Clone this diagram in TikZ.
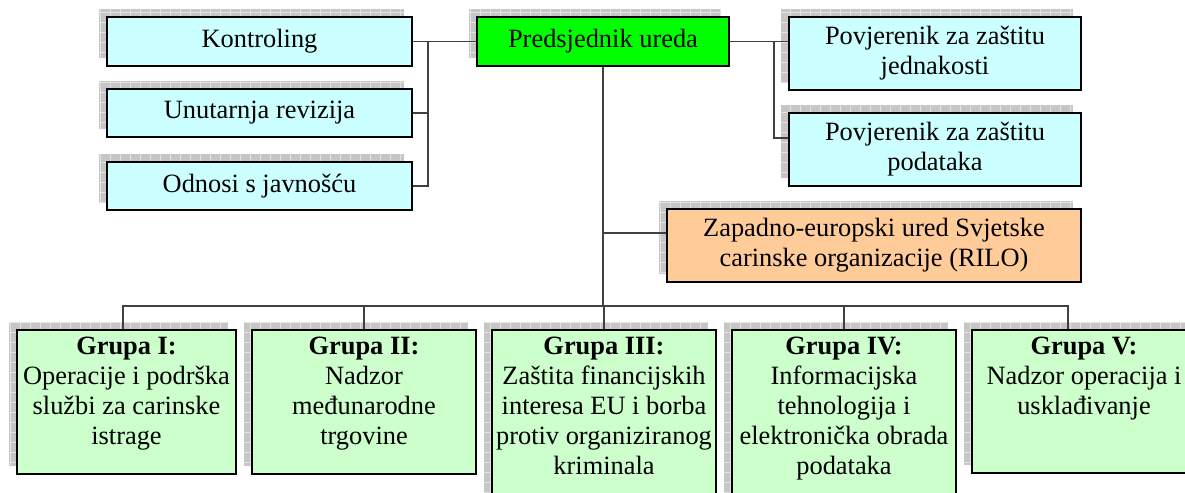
\documentclass[tikz,border=0pt]{standalone}
\usepackage{fontspec}
\setmainfont{Liberation Serif}
\usetikzlibrary{calc,shadows,patterns.meta}
\definecolor{uredcyan}{RGB}{204,255,255}
\definecolor{uredgreen}{RGB}{0,255,0}
\definecolor{uredorange}{RGB}{255,204,153}
\definecolor{grupagreen}{RGB}{204,255,204}
\definecolor{linkgray}{RGB}{64,64,64}
\newcommand\grupatext[3]{\parbox[c][#1][t]{#2}{\centering\vspace*{3.5pt}#3}}

\begin{document}
\begin{tikzpicture}[x=0.5pt,y=-0.5pt,font=\fontsize{13.2}{15}\selectfont,
      sh/.style={general shadow={shadow xshift=-4pt,shadow yshift=4pt,fill=gray!45},
        general shadow={shadow xshift=-4pt,shadow yshift=4pt,
          pattern={Lines[distance=5pt,line width=.5pt]},pattern color=gray!22},
        general shadow={shadow xshift=-4pt,shadow yshift=4pt,
          pattern={Lines[angle=90,distance=5pt,line width=.5pt]},pattern color=gray!22}},
      u/.style={draw,line width=1.2pt,sh,align=center,inner sep=0pt},
      g/.style={u,fill=grupagreen},
      ln/.style={draw=linkgray,line width=.75pt}]
      \useasboundingbox (0,0) rectangle (1185,493);
      \clip (0,0) rectangle (1185,493);
      % staff units
      \node[u,fill=uredcyan,minimum width=152.5pt,minimum height=24.5pt] (ctrl) at (259.5,41.5) {Kontroling};
      \node[u,fill=uredcyan,minimum width=152.5pt,minimum height=24pt] (rev) at (259.5,113) {Unutarnja revizija};
      \node[u,fill=uredcyan,minimum width=152.5pt,minimum height=24pt] (pr) at (259.5,186) {Odnosi s javnošću};
      \node[u,fill=uredgreen,minimum width=126pt,minimum height=24.5pt] (pres) at (603,41.5) {Predsjednik ureda};
      \node[u,fill=uredcyan,minimum width=146pt,minimum height=36.5pt] (eq) at (935,53.5)
        {Povjerenik za zaštitu\\jednakosti};
      \node[u,fill=uredcyan,minimum width=146pt,minimum height=36.5pt] (data) at (935,149.5)
        {Povjerenik za zaštitu\\podataka};
      \node[u,fill=uredorange,minimum width=207pt,minimum height=36.5pt] (rilo) at (874,245.5)
        {Zapadno-europski ured Svjetske\\carinske organizacije (RILO)};
      % groups
      \node[g] (g1) at (126.5,402) {\grupatext{72pt}{109.5pt}{\textbf{Grupa I:}\\Operacije i podrška\\službi za carinske\\istrage}};
      \node[g] (g2) at (364,402) {\grupatext{72pt}{112pt}{\textbf{Grupa II:}\\Nadzor\\međunarodne\\trgovine}};
      \node[g] (g3) at (604,421) {\grupatext{91pt}{112pt}{\textbf{Grupa III:}\\Zaštita financijskih\\interesa EU i borba\\protiv organiziranog\\kriminala}};
      \node[g] (g4) at (844,421) {\grupatext{91pt}{112pt}{\textbf{Grupa IV:}\\Informacijska\\tehnologija i\\elektronička obrada\\podataka}};
      \node[g] (g5) at (1084,401.5) {\grupatext{71.5pt}{112pt}{\textbf{Grupa V:}\\Nadzor operacija i\\usklađivanje}};
      % links
      \coordinate (lj) at (428,41.5);
      \coordinate (rj) at (774,41.5);
      \coordinate (dl) at ($(data.west)+(0,-11.5)$);
      \coordinate (rl) at ($(rilo.west)+(0,-12.5)$);
      \coordinate (busl) at (123,306);
      \coordinate (busr) at (1068,306);
      \draw[ln] (pres.west) -- (ctrl.east);
      \draw[ln] (lj) |- (rev.east);
      \draw[ln] (lj) |- (pr.east);
      \draw[ln] (pres.east) -- (pres.east -| eq.west);
      \draw[ln] (rj) |- (dl);
      \draw[ln] (pres.south) -- (pres.south |- busl);
      \draw[ln] (rl -| pres.south) -- (rl);
      \draw[ln] (g1.north -| busl) -- (busl) -- (busr) -- (g5.north -| busr);
      \foreach \n in {g2,g3,g4}
        \draw[ln] (\n.north) -- (\n.north |- busl);
    \end{tikzpicture}
\end{document}
